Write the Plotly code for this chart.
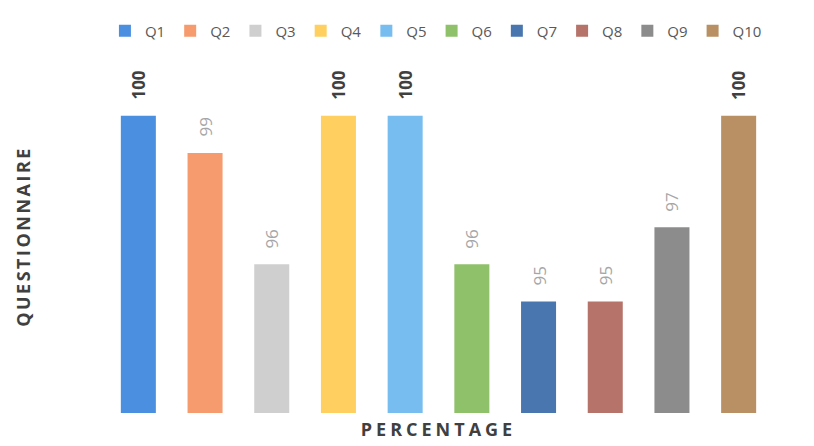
import plotly.graph_objects as go

categories = ["Q1", "Q2", "Q3", "Q4", "Q5", "Q6", "Q7", "Q8", "Q9", "Q10"]
values = [100, 99, 96, 100, 100, 96, 95, 95, 97, 100]
colors = ["#4b8fe0", "#f59b6e", "#cfcfcf", "#ffd060", "#78bdf0",
          "#8fc06a", "#4a76b0", "#b5736a", "#8c8c8c", "#b89064"]

fig = go.Figure()
for c, v, col in zip(categories, values, colors):
    fig.add_trace(go.Bar(x=[c], y=[v], name=c, marker=dict(color=col, line=dict(width=0))))

for c, v in zip(categories, values):
    fig.add_annotation(
        x=c, y=v, xref="x", yref="y", text=str(v), showarrow=False,
        textangle=-90, yanchor="bottom", xanchor="center", yshift=14,
        font=dict(family="Open Sans", size=17,
                  color="#404040" if v == 100 else "#a6a6a6",
                  weight="bold" if v == 100 else "normal"),
    )

fig.update_layout(
    width=814, height=446,
    margin=dict(l=97, r=50, t=52, b=41, autoexpand=False),
    paper_bgcolor="white", plot_bgcolor="white",
    barmode="overlay", bargap=0.475,
    showlegend=True,
    legend=dict(orientation="h", x=-0.0001, xanchor="left",
                y=1.082, yanchor="middle",
                font=dict(family="Open Sans", size=15, color="#595959"),
                traceorder="normal", itemwidth=30),
    font=dict(family="Open Sans"),
)
fig.update_xaxes(showticklabels=False, showgrid=False, zeroline=False, showline=False,
                 ticks="", automargin=False,
                 title=dict(text='<span style="letter-spacing:4px">PERCENTAGE</span>',
                            font=dict(family="Open Sans", size=18, color="#404040", weight="bold"),
                            standoff=10))
fig.update_yaxes(range=[92, 101.5], showticklabels=False, showgrid=False, zeroline=False,
                 showline=False, ticks="", automargin=False,
                 title=dict(text='<span style="letter-spacing:2.5px">QUESTIONNAIRE</span>',
                            font=dict(family="Open Sans", size=18, color="#404040", weight="bold"),
                            standoff=68))
fig.write_html("out.html")
